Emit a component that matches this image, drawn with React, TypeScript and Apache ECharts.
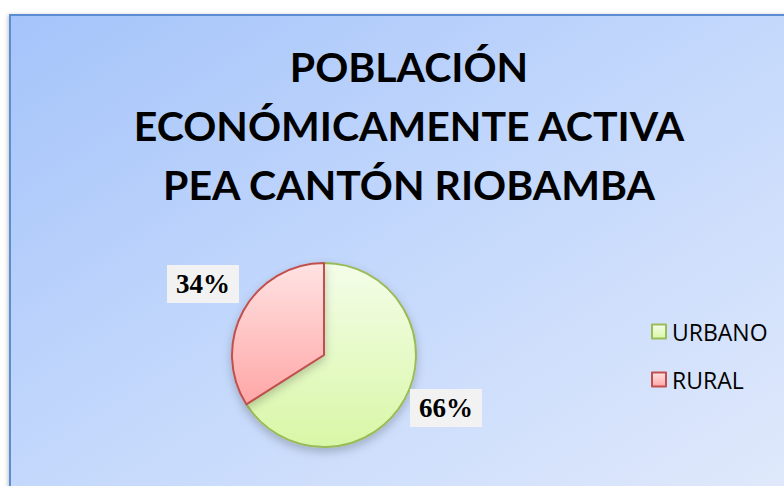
import React, { useEffect, useRef } from "react";
import * as echarts from "echarts";

const categories = ["URBANO", "RURAL"];
const values = [66, 34];
const titleLines = ["POBLACIÓN", "ECONÓMICAMENTE ACTIVA", "PEA CANTÓN RIOBAMBA"];

const fillTops = ["#f4fde9", "#ffe3e3"];
const fillBottoms = ["#d8f7a6", "#ffa6a6"];
const borders = ["#9bbb59", "#c0504d"];
const labelAnchors = [
  [446, 408],
  [203, 284],
];

export default function App() {
  const ref = useRef<HTMLDivElement>(null);
  useEffect(() => {
    document.body.style.margin = "0";
    const chart = echarts.init(ref.current!, null, { renderer: "svg" });
    const data = categories.map((name, i) => ({
      name,
      value: values[i],
      itemStyle: {
        color: new echarts.graphic.LinearGradient(0, 0, 0, 1, [
          { offset: 0, color: fillTops[i] },
          { offset: 1, color: fillBottoms[i] },
        ]),
        borderColor: borders[i],
      },
    }));
    chart.setOption({
      animation: false,
      graphic: [
        {
          type: "rect",
          z: -10,
          shape: { x: 10, y: 15, width: 800, height: 500 },
          style: {
            fill: new echarts.graphic.LinearGradient(0, 0, 1, 1, [
              { offset: 0, color: "#a5c4fa" },
              { offset: 0.5, color: "#c5d9fc" },
              { offset: 1, color: "#e2eafb" },
            ]),
            stroke: "#5a8dd2",
            lineWidth: 2,
            shadowBlur: 4,
            shadowColor: "rgba(0,0,0,0.25)",
            shadowOffsetX: -1,
            shadowOffsetY: 1,
          },
        },
      ],
      title: {
        text: titleLines.join("\n"),
        left: 404,
        top: 32,
        textAlign: "center",
        textStyle: {
          fontFamily: "Lato",
          fontWeight: "bold",
          fontSize: 41,
          lineHeight: 59,
          color: "#000",
        },
      },
      legend: {
        orient: "vertical",
        left: 646,
        top: 315,
        icon: "rect",
        itemWidth: 14,
        itemHeight: 14,
        itemGap: 25,
        data: categories,
        itemStyle: { borderWidth: 2, shadowBlur: 0 },
        textStyle: { fontFamily: "Open Sans", fontSize: 23, color: "#000", padding: [0, 0, 0, 1] },
        selectedMode: false,
      },
      series: [
        {
          type: "pie",
          center: [324, 355],
          radius: 92,
          startAngle: 90,
          clockwise: true,
          silent: true,
          data,
          itemStyle: {
            borderWidth: 2,
            shadowBlur: 10,
            shadowColor: "rgba(0,0,0,0.22)",
            shadowOffsetY: 4,
          },
          label: {
            show: true,
            position: "outside",
            formatter: "{d}%",
            fontFamily: "Liberation Serif",
            fontWeight: "bold",
            fontSize: 27,
            color: "#000",
            backgroundColor: "#f2f2f2",
            padding: [6, 9, 5, 9],
          },
          labelLine: { show: false },
          labelLayout: (p: any) => ({
            x: labelAnchors[p.dataIndex][0],
            y: labelAnchors[p.dataIndex][1],
            align: "center",
            verticalAlign: "middle",
          }),
        },
      ],
    });
    return () => chart.dispose();
  }, []);
  return <div ref={ref} style={{ width: 784, height: 486 }} />;
}
